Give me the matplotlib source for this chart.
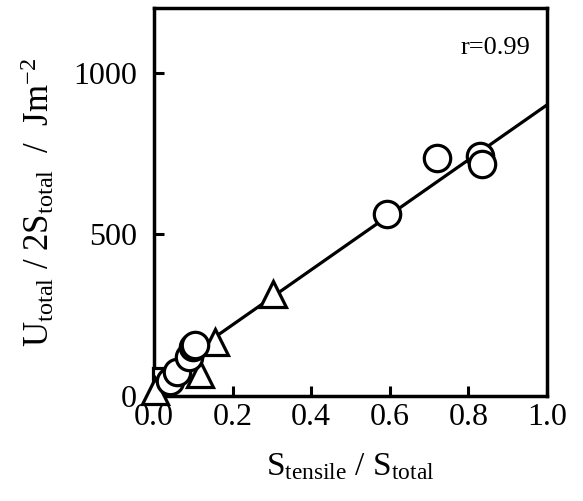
import matplotlib.pyplot as plt
import numpy as np

plt.rcParams["font.family"] = "Liberation Serif"
plt.rcParams["mathtext.fontset"] = "custom"
plt.rcParams["mathtext.rm"] = "Liberation Serif"
plt.rcParams["mathtext.it"] = "Liberation Serif:italic"

# measured points, grouped by marker
circle_x = [0.04, 0.06, 0.09, 0.10, 0.105, 0.593, 0.72, 0.83, 0.835]
circle_y = [46, 74, 120, 150, 157, 562, 735, 741, 719]
triangle_x = [0.003, 0.117, 0.155, 0.303]
triangle_y = [15, 68, 167, 315]
square_x = [0.023]
square_y = [55]

# linear fit
fit_slope = 850
fit_intercept = 50
r_value = 0.99

fig = plt.figure(figsize=(5.83, 5.01), dpi=100)
ax = fig.add_axes([0.264, 0.2096, 0.674, 0.7744])

xs = np.array([0.0, 1.0])
ax.plot(xs, fit_intercept + fit_slope * xs, color="black", lw=2.3, zorder=2)

mk = dict(ls="none", mfc="white", mec="black", mew=2.3, zorder=3, clip_on=False)
ax.plot(square_x, square_y, marker="s", ms=15, **mk)
ax.plot(triangle_x, triangle_y, marker="^", ms=19, **mk)
ax.plot(circle_x, circle_y, marker="o", ms=19, **mk)

ax.set_xlim(0, 1.0)
ax.set_ylim(0, 1200)
ax.set_xticks([0.0, 0.2, 0.4, 0.6, 0.8, 1.0])
ax.set_xticklabels(["0.0", "0.2", "0.4", "0.6", "0.8", "1.0"])
ax.set_yticks([0, 500, 1000])

for s in ax.spines.values():
    s.set_linewidth(2.5)
ax.tick_params(direction="in", length=7, width=2.2, labelsize=23)
ax.tick_params(axis="x", pad=5)
ax.tick_params(axis="y", pad=12)

ax.set_xlabel(r"$\mathrm{S_{tensile}}$ / $\mathrm{S_{total}}$", fontsize=24, labelpad=14)
ax.set_ylabel(r"$\mathrm{U_{total}}$ / $\mathrm{2S_{total}}$  /  $\mathrm{Jm^{-2}}$",
              fontsize=25, labelpad=12)

ax.text(0.78, 0.897, "r=%.2f" % r_value, transform=ax.transAxes, fontsize=19,
        ha="left", va="center")

fig.savefig("out.png", dpi=100)
